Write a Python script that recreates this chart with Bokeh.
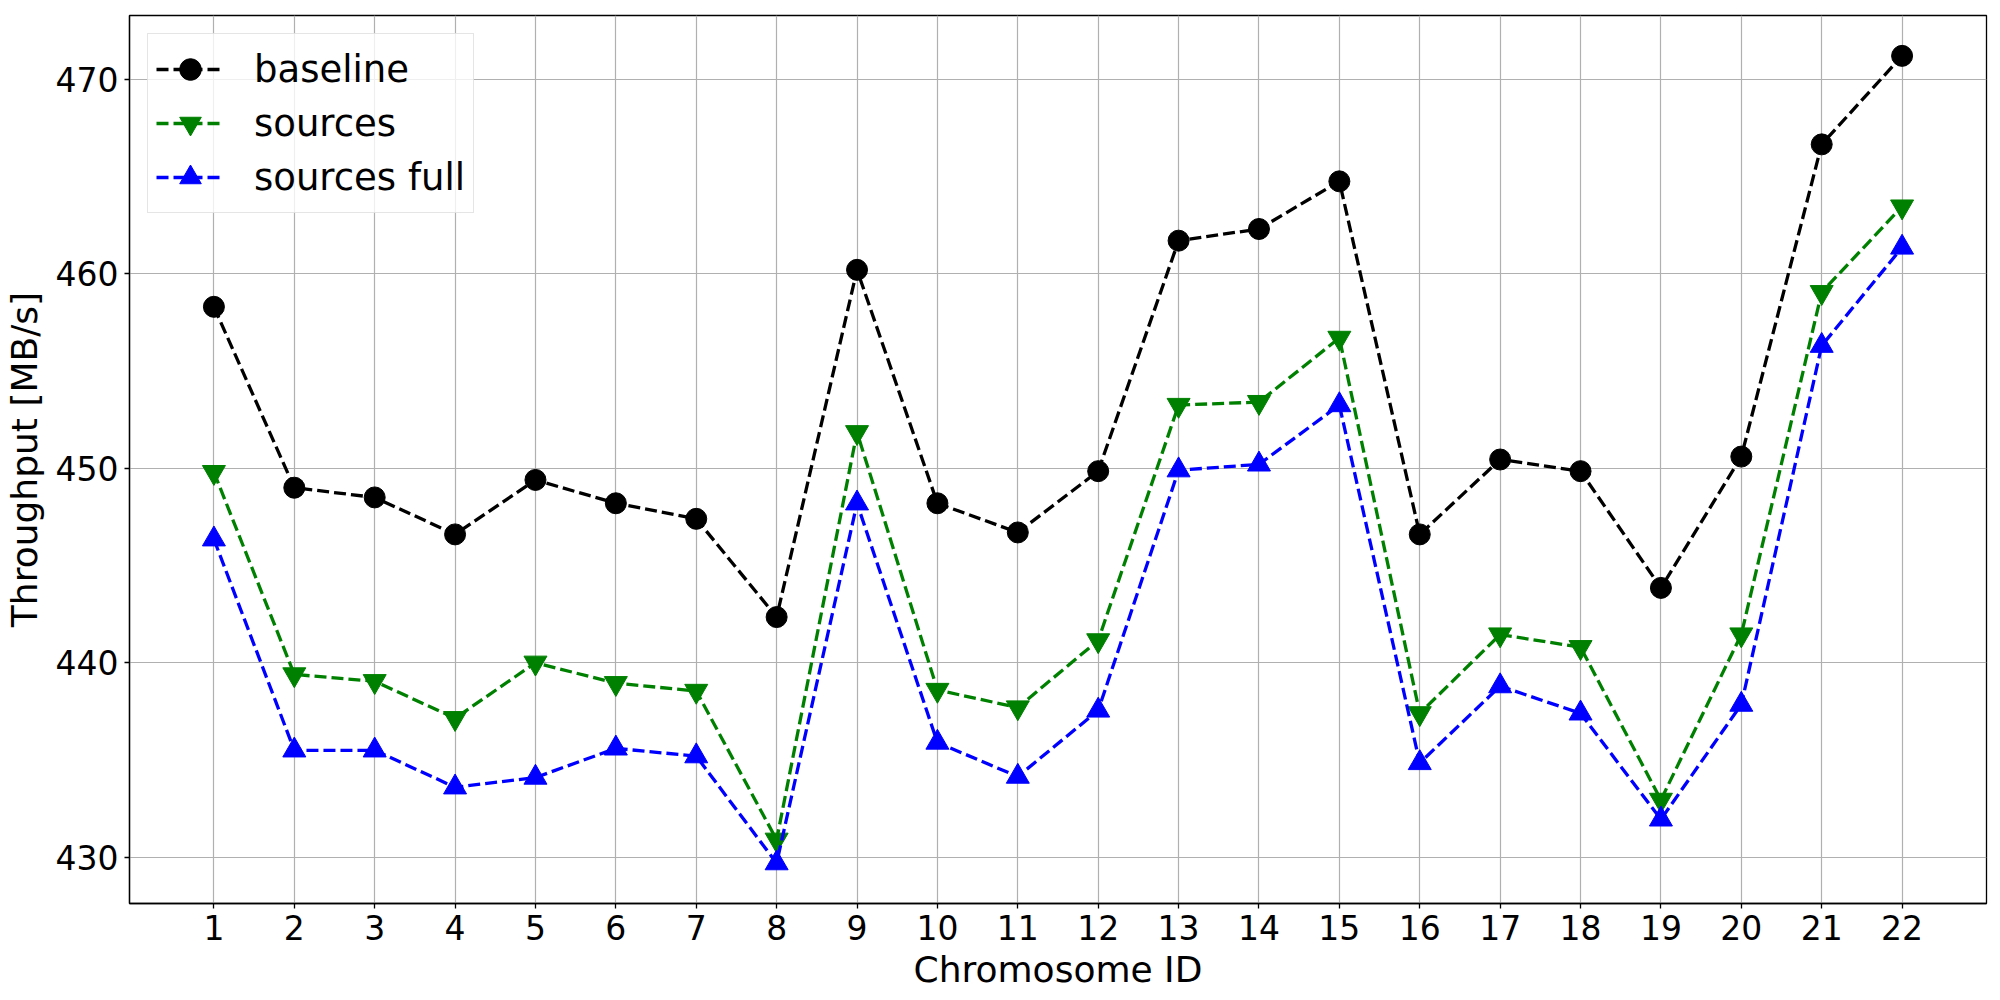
from bokeh.plotting import figure
from bokeh.models import FixedTicker, Range1d, Legend
from bokeh.embed import file_html
from bokeh.resources import INLINE

chromosomes = list(range(1, 23))
baseline = [458.3, 449.0, 448.5, 446.6, 449.4, 448.2, 447.4, 442.35, 460.2, 448.2, 446.7,
            449.85, 461.7, 462.3, 464.75, 446.6, 450.45, 449.85, 443.85, 450.6, 466.65, 471.2]
sources = [449.8, 439.4, 439.05, 437.15, 440.0, 438.95, 438.55, 430.9, 451.85, 438.6, 437.7,
           441.15, 453.25, 453.4, 456.7, 437.4, 441.45, 440.8, 432.95, 441.45, 459.05, 463.45]
sources_full = [446.35, 435.5, 435.5, 433.6, 434.1, 435.6, 435.2, 429.7, 448.2, 435.9, 434.15,
                437.55, 449.9, 450.2, 453.25, 434.85, 438.8, 437.4, 431.95, 437.85, 456.3, 461.35]
y_ticks = [430, 440, 450, 460, 470]

FONT = "DejaVu Sans"

allv = baseline + sources + sources_full
lo, hi = min(allv), max(allv)
pad = (hi - lo) * 0.05

p = figure(frame_width=1857, frame_height=888, output_backend="svg", toolbar_location=None,
           x_range=Range1d(1 - 0.05 * 21, 22 + 0.05 * 21), y_range=Range1d(lo - pad, hi + pad),
           min_border_left=128, min_border_right=7, min_border_top=15, min_border_bottom=89)

p.xaxis.ticker = FixedTicker(ticks=chromosomes)
p.yaxis.ticker = FixedTicker(ticks=y_ticks)
p.xaxis.axis_label = "Chromosome ID"
p.yaxis.axis_label = "Throughput [MB/s]"

for ax in (p.xaxis, p.yaxis):
    ax.axis_label_text_font = FONT
    ax.axis_label_text_font_size = "36px"
    ax.axis_label_text_font_style = "normal"
    ax.axis_label_text_color = "black"
    ax.major_label_text_font = FONT
    ax.major_label_text_font_size = "33px"
    ax.major_label_text_color = "black"
    ax.axis_line_color = "black"
    ax.axis_line_width = 1.3
    ax.major_tick_line_color = "black"
    ax.major_tick_line_width = 1.3
    ax.major_tick_in = 0
    ax.major_tick_out = 5
    ax.minor_tick_line_color = None
    ax.major_label_standoff = 6
p.xaxis.axis_label_standoff = 6
p.yaxis.axis_label_standoff = 8

p.grid.grid_line_color = "#b0b0b0"
p.grid.grid_line_width = 1.2
p.outline_line_color = "black"
p.outline_line_width = 1.3
p.outline_line_alpha = 1.0

dash = "12 5"
items = []
series = [
    ("baseline", baseline, "black", "circle", 21),
    ("sources", sources, "#008000", "inverted_triangle", 23),
    ("sources full", sources_full, "#0000ff", "triangle", 23),
]
for name, vals, color, marker, size in series:
    l = p.line(chromosomes, vals, line_color=color, line_width=3.3, line_dash=dash)
    s = p.scatter(chromosomes, vals, marker=marker, size=size, fill_color=color, line_color=color)
    items.append((name, [l, s]))

legend = Legend(items=items, location="top_left")
legend.label_text_font = FONT
legend.label_text_font_size = "37px"
legend.label_text_color = "black"
legend.glyph_width = 68
legend.glyph_height = 54
legend.label_height = 54
legend.spacing = -3
legend.padding = 8
legend.margin = 18
legend.label_standoff = 30
legend.border_line_color = "#cccccc"
legend.border_line_width = 1.5
legend.background_fill_alpha = 0.8
p.add_layout(legend)

open("out.html", "w").write(file_html(p, INLINE))
